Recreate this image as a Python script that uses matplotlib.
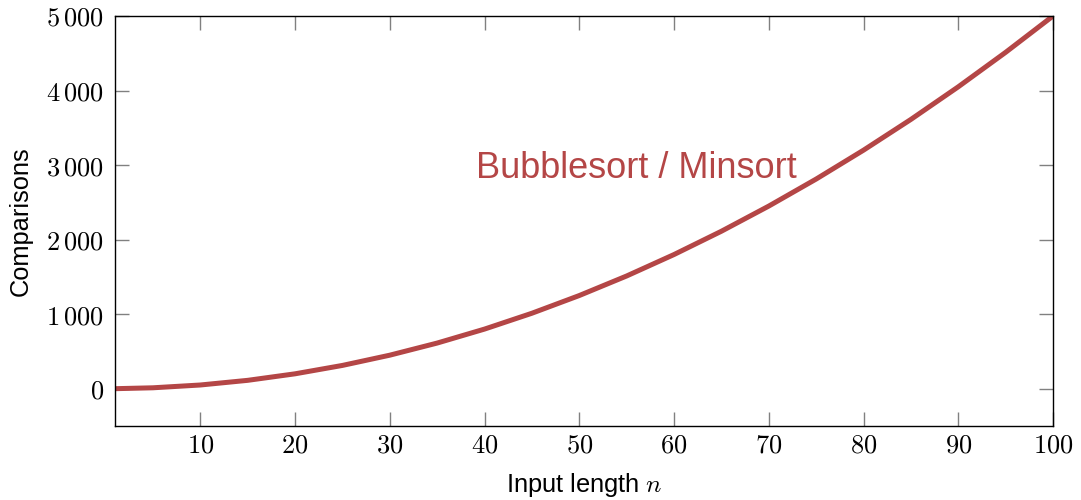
import matplotlib
matplotlib.use("Agg")
import matplotlib.pyplot as plt
from matplotlib.ticker import FixedLocator, FuncFormatter

# Data
n_values = [1, 5, 10, 15, 20, 25, 30, 35, 40, 45, 50, 55, 60, 65, 70, 75, 80, 85, 90, 95, 100]
comparisons = [0.5, 12.5, 50, 112.5, 200, 312.5, 450, 612.5, 800, 1012.5, 1250, 1512.5,
               1800, 2112.5, 2450, 2812.5, 3200, 3612.5, 4050, 4512.5, 5000]
x_ticks = [10, 20, 30, 40, 50, 60, 70, 80, 90, 100]
y_ticks = [0, 1000, 2000, 3000, 4000, 5000]
series_label = "Bubblesort / Minsort"

plt.rcParams['mathtext.fontset'] = 'cm'
red = '#b44646'

fig = plt.figure(figsize=(10.81, 5.0), dpi=100)
ax = fig.add_axes([115/1081, 1 - 426/500, (1053-115)/1081, (426-16)/500])

ax.plot(n_values, comparisons, color=red, lw=3.6, solid_capstyle='butt',
        solid_joinstyle='round')
ax.set_xlim(1, 100)
ax.set_ylim(-500, 5000)

ax.xaxis.set_major_locator(FixedLocator(x_ticks))
ax.yaxis.set_major_locator(FixedLocator(y_ticks))

def fmt_y(v, pos):
    v = int(round(v))
    if abs(v) >= 1000:
        s = f"{v:,}".replace(",", r"\,")
    else:
        s = str(v)
    return f"${s}$"

ax.xaxis.set_major_formatter(FuncFormatter(lambda v, p: f"${int(v)}$"))
ax.yaxis.set_major_formatter(FuncFormatter(fmt_y))

ax.tick_params(axis='both', which='both', direction='in', length=10, width=1,
               color='#808080', labelsize=19, top=True, right=True, pad=8)
ax.tick_params(axis='x', pad=5)
for s in ax.spines.values():
    s.set_color('black')
    s.set_linewidth(1.0)

ax.set_xlabel(r"Input length $n$", fontsize=18.3, family='Liberation Sans', labelpad=9)
ax.set_ylabel("Comparisons", fontsize=18.3, family='Liberation Sans', labelpad=10)

ax.text(56.0, 2950, series_label, color=red, fontsize=26, family='Liberation Sans',
        ha='center', va='center')

fig.savefig("out.png", dpi=100)
